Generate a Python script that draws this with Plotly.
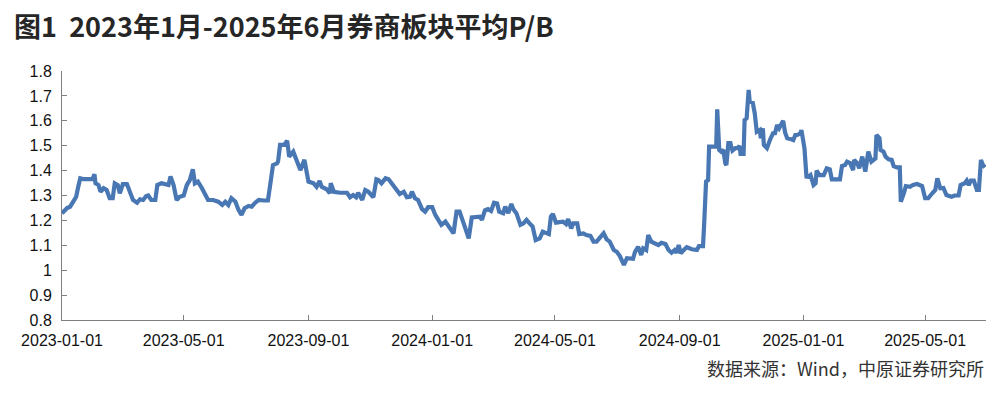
import pandas as pd
import plotly.graph_objects as go

# Days elapsed since 2023-01-01 for each observation, and the average P/B value
day_offset = [
    0, 5, 8, 11, 14, 16, 18, 21, 30, 32, 33, 36, 38, 41, 44, 47, 50, 52, 55, 57,
    60, 64, 67, 70, 74, 77, 80, 83, 85, 88, 92, 94, 98, 103, 105, 107, 110, 113, 116, 120,
    123, 126, 129, 131, 134, 138, 141, 144, 149, 154, 158, 161, 164, 167, 171, 174, 177, 180, 184, 187,
    190, 194, 199, 203, 205, 208, 212, 213, 215, 219, 222, 224, 228, 231, 235, 239, 243, 248, 251, 254,
    256, 261, 264, 265, 268, 274, 281, 284, 287, 290, 292, 296, 299, 302, 307, 310, 312, 315, 319, 322,
    325, 330, 333, 337, 340, 343, 345, 348, 351, 355, 358, 361, 365, 368, 371, 374, 378, 381, 386, 389,
    392, 396, 401, 404, 409, 412, 414, 417, 420, 423, 426, 429, 431, 435, 437, 440, 443, 445, 448, 452,
    455, 458, 461, 464, 467, 471, 474, 478, 480, 482, 484, 487, 491, 494, 497, 499, 502, 504, 508, 510,
    514, 517, 521, 524, 527, 531, 534, 537, 540, 544, 547, 550, 554, 557, 560, 563, 565, 568, 571, 573,
    576, 578, 581, 585, 588, 591, 595, 598, 601, 604, 606, 608, 610, 613, 616, 621, 626, 628, 632, 633,
    635, 637, 638, 642, 645, 646, 648, 650, 652, 654, 655, 657, 659, 661, 664, 666, 668, 669, 672, 673,
    675, 677, 678, 681, 683, 685, 688, 689, 691, 692, 695, 698, 701, 703, 705, 707, 709, 711, 713, 715,
    719, 721, 723, 725, 728, 729, 732, 734, 736, 738, 741, 743, 744, 747, 751, 754, 757, 759, 764, 767,
    769, 772, 774, 777, 780, 781, 784, 786, 789, 792, 795, 798, 802, 803, 806, 807, 810, 812, 815, 818,
    820, 823, 826, 827, 830, 832, 836, 839, 843, 848, 851, 854, 858, 861, 863, 866, 869, 872, 877, 880,
    884, 886, 890, 892, 894, 896, 899, 902, 904, 906, 908, 910,
]
pb_value = [
    1.228, 1.25, 1.255, 1.275, 1.295, 1.335, 1.369, 1.366, 1.366, 1.385, 1.349, 1.342, 1.315, 1.329, 1.322, 1.289, 1.289, 1.349, 1.342, 1.309,
    1.346, 1.346, 1.309, 1.282, 1.271, 1.285, 1.282, 1.298, 1.30, 1.282, 1.282, 1.342, 1.349, 1.346, 1.342, 1.376, 1.342, 1.282, 1.295, 1.30,
    1.342, 1.362, 1.405, 1.349, 1.356, 1.329, 1.309, 1.282, 1.282, 1.275, 1.262, 1.275, 1.262, 1.289, 1.275, 1.242, 1.222, 1.249, 1.258, 1.255,
    1.269, 1.282, 1.28, 1.28, 1.335, 1.422, 1.429, 1.436, 1.503, 1.503, 1.52, 1.456, 1.476, 1.443, 1.402, 1.443, 1.356, 1.349, 1.335, 1.358,
    1.335, 1.325, 1.309, 1.349, 1.315, 1.311, 1.311, 1.293, 1.302, 1.293, 1.311, 1.282, 1.322, 1.315, 1.293, 1.365, 1.362, 1.349, 1.369, 1.365,
    1.349, 1.322, 1.306, 1.315, 1.293, 1.295, 1.315, 1.289, 1.282, 1.245, 1.235, 1.253, 1.253, 1.222, 1.202, 1.182, 1.195, 1.175, 1.148, 1.235,
    1.235, 1.188, 1.128, 1.212, 1.215, 1.215, 1.202, 1.24, 1.245, 1.238, 1.271, 1.268, 1.235, 1.229, 1.255, 1.229, 1.266, 1.245, 1.229, 1.182,
    1.188, 1.202, 1.188, 1.175, 1.121, 1.128, 1.155, 1.148, 1.145, 1.215, 1.226, 1.191, 1.191, 1.195, 1.185, 1.205, 1.168, 1.188, 1.188, 1.145,
    1.148, 1.141, 1.138, 1.115, 1.115, 1.137, 1.148, 1.124, 1.115, 1.081, 1.074, 1.057, 1.021, 1.048, 1.048, 1.046, 1.074, 1.094, 1.061, 1.088,
    1.081, 1.141, 1.115, 1.108, 1.101, 1.110, 1.105, 1.081, 1.070, 1.081, 1.070, 1.101, 1.068, 1.081, 1.092, 1.084, 1.081, 1.097, 1.097, 1.175,
    1.356, 1.362, 1.496, 1.496, 1.496, 1.646, 1.483, 1.476, 1.483, 1.429, 1.422, 1.510, 1.51, 1.48, 1.49, 1.49, 1.499, 1.467, 1.467, 1.603,
    1.61, 1.724, 1.677, 1.673, 1.63, 1.556, 1.563, 1.53, 1.57, 1.503, 1.49, 1.523, 1.55, 1.55, 1.583, 1.57, 1.583, 1.60, 1.552, 1.53,
    1.526, 1.523, 1.543, 1.543, 1.55, 1.563, 1.49, 1.376, 1.375, 1.382, 1.342, 1.349, 1.40, 1.382, 1.382, 1.409, 1.405, 1.365, 1.365, 1.365,
    1.418, 1.422, 1.436, 1.43, 1.402, 1.443, 1.43, 1.41, 1.456, 1.396, 1.476, 1.436, 1.449, 1.543, 1.53, 1.483, 1.476, 1.456, 1.445, 1.443,
    1.418, 1.413, 1.413, 1.275, 1.309, 1.338, 1.335, 1.342, 1.346, 1.338, 1.289, 1.289, 1.309, 1.322, 1.369, 1.329, 1.33, 1.302, 1.295, 1.30,
    1.30, 1.342, 1.349, 1.36, 1.342, 1.36, 1.36, 1.322, 1.322, 1.443, 1.422, 1.413,
]

x_tick_dates = ["2023-01-01", "2023-05-01", "2023-09-01", "2024-01-01",
                "2024-05-01", "2024-09-01", "2025-01-01", "2025-05-01"]
y_tick_values = [0.8, 0.9, 1.0, 1.1, 1.2, 1.3, 1.4, 1.5, 1.6, 1.7, 1.8]
y_tick_labels = ["0.8", "0.9", "1", "1.1", "1.2", "1.3", "1.4", "1.5", "1.6", "1.7", "1.8"]

title_text = "图1  2023年1月-2025年6月券商板块平均P/B"
source_text = "数据来源：Wind，中原证券研究所"

dates = pd.Timestamp("2023-01-01") + pd.to_timedelta(day_offset, unit="D")

fig = go.Figure()
fig.add_trace(go.Scatter(
    x=dates, y=pb_value, mode="lines",
    line=dict(color="#4877b3", width=4.2),
    hoverinfo="x+y", showlegend=False,
))

axis_color = "#7f7f7f"
tick_font = dict(family="Liberation Sans, Arial, sans-serif", size=16, color="#111111")

fig.update_layout(
    width=1000, height=393,
    margin=dict(l=62, r=14, t=71, b=73),
    paper_bgcolor="white", plot_bgcolor="white",
    title=dict(
        text="<b>" + title_text + "</b>",
        x=14 / 1000, xref="container", xanchor="left",
        y=1 - 28 / 393, yref="container", yanchor="middle",
        font=dict(family="Noto Sans CJK SC", size=27, color="#262626"),
    ),
    xaxis=dict(
        type="date",
        range=["2023-01-01", "2025-06-30"],
        tickvals=x_tick_dates, ticktext=x_tick_dates,
        ticks="inside", ticklen=5, tickcolor=axis_color, tickwidth=1,
        showline=True, linecolor=axis_color, linewidth=1,
        showgrid=False, zeroline=False,
        tickfont=tick_font, ticklabelstandoff=6,
    ),
    yaxis=dict(
        range=[0.8, 1.8],
        tickvals=y_tick_values, ticktext=y_tick_labels,
        ticks="inside", ticklen=5, tickcolor=axis_color, tickwidth=1,
        showline=True, linecolor=axis_color, linewidth=1,
        showgrid=False, zeroline=False,
        tickfont=tick_font, ticklabelstandoff=6,
    ),
    annotations=[dict(
        text=source_text, xref="paper", x=1.0, xanchor="right",
        yref="paper", y=(320 - 368) / 249, yanchor="middle",
        showarrow=False,
        font=dict(family="Noto Sans CJK SC", size=18, color="#333333"),
    )],
)

fig.write_html("out.html", config={"displayModeBar": False},
               post_script="document.body.style.margin='0';")
